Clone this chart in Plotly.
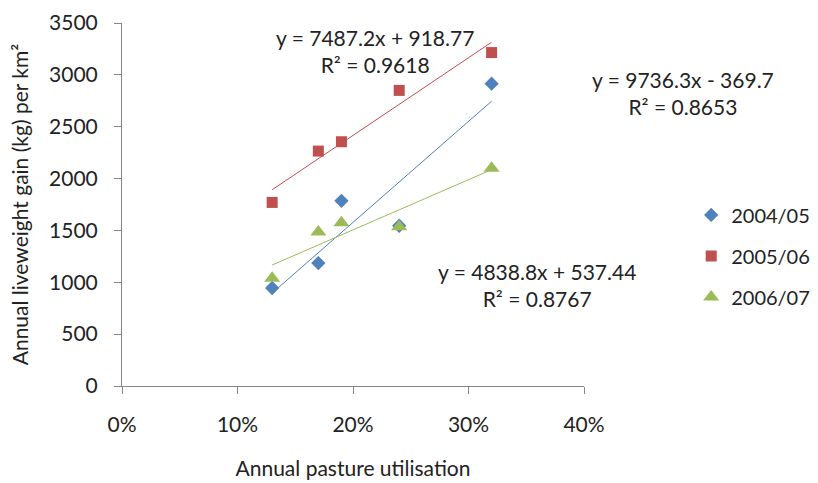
import plotly.graph_objects as go

# ---- data ----
series_names = ["2004/05", "2005/06", "2006/07"]
utilisation = [0.13, 0.17, 0.19, 0.24, 0.32]
gain_2004_05 = [945, 1185, 1785, 1545, 2915]
gain_2005_06 = [1770, 2265, 2355, 2850, 3215]
gain_2006_07 = [1040, 1485, 1575, 1535, 2100]
slopes = [9736.3, 7487.2, 4838.8]
intercepts = [-369.7, 918.77, 537.44]
r_squared = [0.8653, 0.9618, 0.8767]
x_ticks = [0, 0.1, 0.2, 0.3, 0.4]
y_ticks = [0, 500, 1000, 1500, 2000, 2500, 3000, 3500]

colors = ["#4F81BD", "#C0504D", "#9BBB59"]
symbols = ["diamond", "square", "triangle-up"]
sizes = [11, 11, 14]
FONT = "Lato, 'Open Sans', sans-serif"
TXT = "#222222"

fig = go.Figure()
all_gains = [gain_2004_05, gain_2005_06, gain_2006_07]

# trendlines
xmin, xmax = min(utilisation), max(utilisation)
for i in range(3):
    xs = [xmin, xmax]
    ys = [slopes[i] * x + intercepts[i] for x in xs]
    fig.add_trace(go.Scatter(x=xs, y=ys, mode="lines",
                             line=dict(color=colors[i], width=1),
                             showlegend=False, hoverinfo="skip"))

for i in range(3):
    fig.add_trace(go.Scatter(x=utilisation, y=all_gains[i], mode="markers",
                             name=series_names[i], legendgroup=series_names[i],
                             marker=dict(color=colors[i], symbol=symbols[i],
                                         size=sizes[i], line=dict(width=0))))

def eq_text(i):
    sign = "+" if intercepts[i] >= 0 else "-"
    return f"y = {slopes[i]}x {sign} {abs(intercepts[i])}<br>R² = {r_squared[i]}"

# equation labels (blue, red, green)
eq_pos = [(1.214, 0.8085), (0.548, 0.923), (0.898, 0.278)]
for i in range(3):
    fig.add_annotation(x=eq_pos[i][0], y=eq_pos[i][1], xref="paper", yref="paper",
                       xanchor="center", yanchor="middle",
                       text=eq_text(i), showarrow=False, align="center",
                       font=dict(family=FONT, size=21, color=TXT))

axis_common = dict(showline=True, linecolor="#868686", linewidth=1,
                   ticks="outside", tickcolor="#868686", ticklen=7,
                   showgrid=False, zeroline=False, automargin=False,
                   tickfont=dict(family=FONT, size=21, color=TXT))

fig.update_xaxes(range=[0, 0.4], tickvals=x_ticks, tickformat=".0%",
                 ticklabelstandoff=13,
                 title=dict(text="Annual pasture utilisation", standoff=26,
                            font=dict(family=FONT, size=21, color=TXT)),
                 **axis_common)
fig.update_yaxes(range=[0, 3500], tickvals=y_ticks, ticklabelstandoff=12,
                 title=dict(text="Annual liveweight gain (kg) per km²", standoff=14,
                            font=dict(family=FONT, size=21, color=TXT)),
                 **axis_common)

fig.update_layout(
    width=818, height=483,
    margin=dict(l=122, r=234, t=23, b=97, autoexpand=False),
    paper_bgcolor="white", plot_bgcolor="white",
    font=dict(family=FONT, size=21, color=TXT),
    legend=dict(x=1.232, xanchor="left", y=0.525, yanchor="top",
                tracegroupgap=12, traceorder="grouped",
                font=dict(family=FONT, size=20, color=TXT),
                bgcolor="rgba(0,0,0,0)"),
)

fig.write_html("out.html")
